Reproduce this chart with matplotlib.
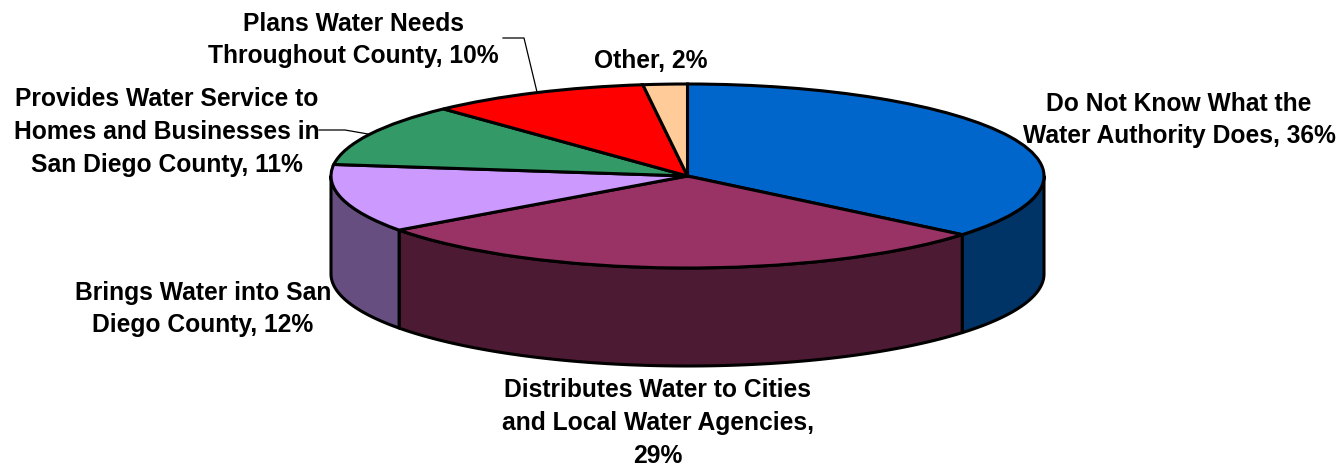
# 3D looking pie chart

import numpy as np
import matplotlib
matplotlib.use('Agg')
import matplotlib.pyplot as plt

values = [36, 29, 12, 11, 10, 2]
top_colors = ['#0066CC', '#993366', '#CC99FF', '#339966', '#FF0000', '#FFCC99']
side_colors = ['#003366', '#4D1A33', '#664F80', '#1A4D33', '#800000', '#806650']
labels = ['Do Not Know What the\nWater Authority Does, 36%',
          'Distributes Water to Cities\nand Local Water Agencies,\n29%',
          'Brings Water into San\nDiego County, 12%',
          'Provides Water Service to\nHomes and Businesses in\nSan Diego County, 11%',
          'Plans Water Needs\nThroughout County, 10%',
          'Other, 2%']
# label centres in picture pixels
label_x = [1179, 658, 203, 167, 353.5, 651]
label_y = [120, 423, 309, 132, 40, 61]

W, H = 1344, 466
cx, cy = 687.5, 176
rx, ry = 356.5, 92
depth = 98

plt.rcParams['font.family'] = ['Liberation Sans', 'DejaVu Sans']

fig = plt.figure(figsize=(W / 100, H / 100), dpi=100)
ax = fig.add_axes([0, 0, 1, 1])

# pie in unit circle, the axes limits squash it to an ellipse
ax.pie(values, colors=top_colors, startangle=90, counterclock=False, radius=1,
       wedgeprops={'edgecolor': 'black', 'linewidth': 2.2, 'zorder': 3})
ax.set_aspect('auto')
ax.set_xlim(-cx / rx, (W - cx) / rx)
ax.set_ylim(-(H - cy) / ry, cy / ry)

d = depth / ry


def px(x, y):
    return (x - cx) / rx, (cy - y) / ry


# side walls, only the front half of the ellipse can be seen
edges = 90 - np.cumsum([0] + values) * 3.6
for i in range(len(values)):
    a1 = max(edges[i + 1], -180)
    a0 = min(edges[i], 0)
    if a1 >= a0:
        continue
    t = np.radians(np.linspace(a0, a1, 100))
    x = np.cos(t)
    y = np.sin(t)
    ax.fill(np.r_[x, x[::-1]], np.r_[y, y[::-1] - d], facecolor=side_colors[i],
            edgecolor='black', linewidth=2.2, zorder=2, joinstyle='round')

# leader lines
lx, ly = px(np.array([503, 524, 537]), np.array([38, 38, 92]))
ax.plot(lx, ly, color='black', lw=0.9, zorder=4)
lx, ly = px(np.array([319, 345, 368]), np.array([130, 130, 134]))
ax.plot(lx, ly, color='black', lw=0.9, zorder=4)

for i in range(len(labels)):
    tx, ty = px(label_x[i], label_y[i])
    ax.text(tx, ty, labels[i], ha='center', va='center', fontsize=17.75,
            fontweight='bold', color='black', linespacing=1.46, zorder=5)

fig.savefig('out.png', dpi=100)
